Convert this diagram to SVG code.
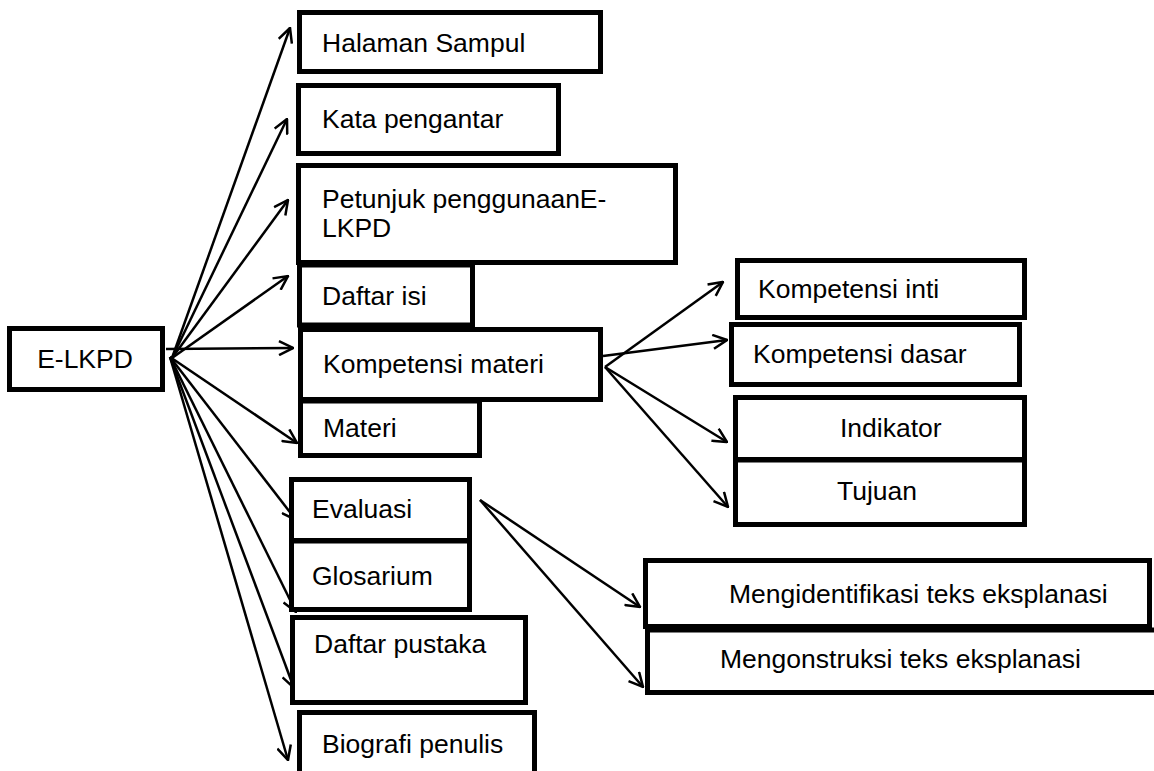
<svg xmlns="http://www.w3.org/2000/svg" width="1154" height="771" viewBox="0 0 1154 771">
<style>
.box{fill:#fff;stroke:#000;stroke-width:5}
.t{font-family:"Liberation Sans",Arial,sans-serif;font-size:26.5px;fill:#000}
.c{fill:none;stroke:#000;stroke-width:2.5;marker-end:url(#ah)}
</style>
<defs>
<marker id="ah" viewBox="0 0 16 16" refX="15" refY="8" markerWidth="16" markerHeight="16" markerUnits="userSpaceOnUse" orient="auto">
<path d="M1,1 L15,8 L1,15" fill="none" stroke="#000" stroke-width="2.5"/>
</marker>
</defs>
<rect width="1154" height="771" fill="#fff"/>
<g id="connectors">
<line class="c" x1="172" y1="358" x2="290" y2="28"/>
<line class="c" x1="172" y1="358" x2="287" y2="119"/>
<line class="c" x1="172" y1="358" x2="288" y2="200"/>
<line class="c" x1="172" y1="358" x2="288" y2="276"/>
<line class="c" x1="166" y1="349" x2="293" y2="348"/>
<line class="c" x1="170" y1="357" x2="297" y2="443"/>
<line class="c" x1="170" y1="357" x2="296" y2="520"/>
<line class="c" x1="170" y1="357" x2="296" y2="612"/>
<line class="c" x1="170" y1="357" x2="294" y2="688"/>
<line class="c" x1="170" y1="357" x2="288" y2="760"/>
<line class="c" x1="605" y1="367" x2="723" y2="282"/>
<line class="c" x1="603" y1="356" x2="727" y2="340"/>
<line class="c" x1="605" y1="367" x2="727" y2="442"/>
<line class="c" x1="605" y1="367" x2="728" y2="507"/>
<line class="c" x1="480" y1="500" x2="640" y2="607"/>
<line class="c" x1="480" y1="500" x2="643" y2="687"/>
</g>
<g id="n-elkpd"><rect class="box" x="9.5" y="328.5" width="153" height="61"/><text class="t" x="85" y="368" text-anchor="middle">E-LKPD</text></g>
<g id="n-halaman"><rect class="box" x="299.5" y="12.5" width="301" height="59"/><text class="t" x="322" y="52">Halaman Sampul</text></g>
<g id="n-kata"><rect class="box" x="298.5" y="85.5" width="260" height="68"/><text class="t" x="322" y="128">Kata pengantar</text></g>
<g id="n-petunjuk"><rect class="box" x="298.5" y="165.5" width="377" height="97"/><text class="t" x="322" y="208">Petunjuk penggunaanE-</text><text class="t" x="322" y="237">LKPD</text></g>
<g id="n-daftarisi"><rect class="box" x="299.5" y="265" width="173" height="60"/><text class="t" x="322" y="305">Daftar isi</text></g>
<g id="n-kompmateri"><rect class="box" x="300.5" y="329.5" width="300" height="70"/><text class="t" x="323" y="373">Kompetensi materi</text></g>
<g id="n-materi"><rect class="box" x="300.5" y="401" width="179" height="54.5"/><text class="t" x="323" y="437">Materi</text></g>
<g id="n-evaluasi"><rect class="box" x="291.5" y="479.5" width="178" height="61"/><text class="t" x="312" y="518">Evaluasi</text></g>
<g id="n-glosarium"><rect class="box" x="291.5" y="541" width="178" height="68.5"/><text class="t" x="312" y="585">Glosarium</text></g>
<g id="n-pustaka"><rect class="box" x="292.5" y="617.5" width="233" height="85"/><text class="t" x="314" y="653">Daftar pustaka</text></g>
<g id="n-biografi"><rect class="box" x="299.5" y="712.5" width="235" height="70"/><text class="t" x="322" y="753">Biografi penulis</text></g>
<g id="n-ki"><rect class="box" x="737.5" y="260.5" width="287" height="57"/><text class="t" x="758" y="298">Kompetensi inti</text></g>
<g id="n-kd"><rect class="box" x="731.5" y="324.5" width="288" height="60"/><text class="t" x="753" y="363">Kompetensi dasar</text></g>
<g id="n-indikator"><rect class="box" x="735.5" y="397.5" width="289" height="62"/><text class="t" x="840" y="437">Indikator</text></g>
<g id="n-tujuan"><rect class="box" x="735.5" y="460" width="289" height="64.5"/><text class="t" x="837" y="500">Tujuan</text></g>
<g id="n-mengidentifikasi"><rect class="box" x="645.5" y="560.5" width="504" height="66"/><text class="t" x="729" y="603">Mengidentifikasi teks eksplanasi</text></g>
<g id="n-mengonstruksi"><rect class="box" x="647.5" y="630" width="520" height="62.5"/><text class="t" x="720" y="668">Mengonstruksi teks eksplanasi</text></g>
</svg>
